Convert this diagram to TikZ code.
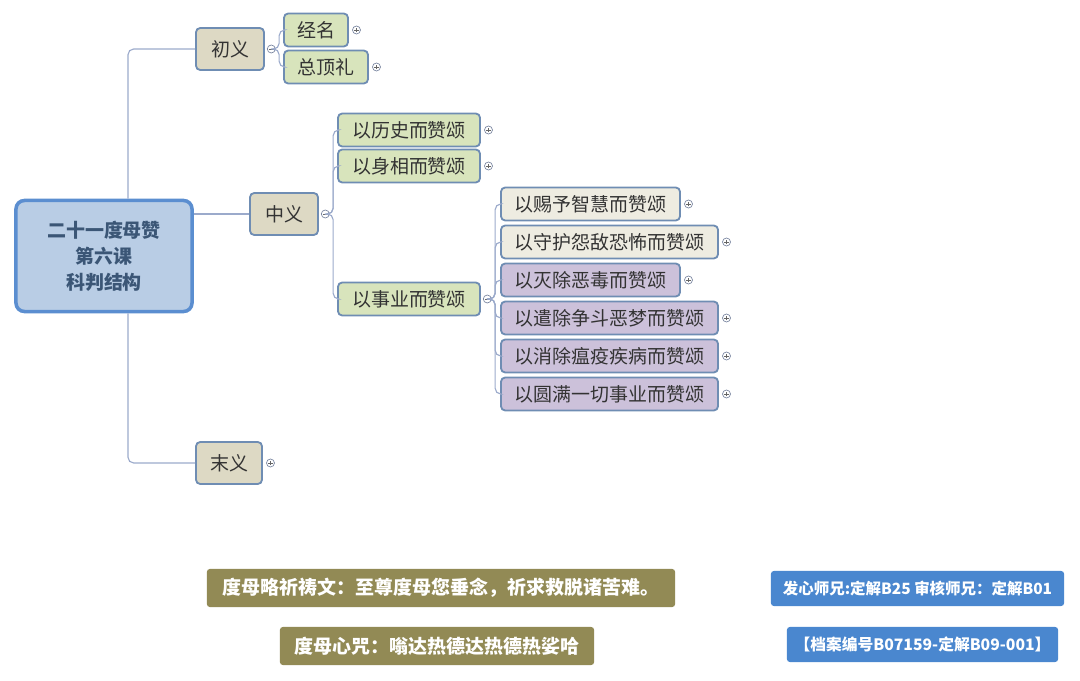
\documentclass[tikz,border=0pt]{standalone}
\usepackage{fontspec}
\setmainfont{Noto Sans CJK SC}
\usetikzlibrary{positioning}
\definecolor{rootfill}{HTML}{B9CDE5}
\definecolor{rootline}{HTML}{5B8ED0}
\definecolor{roottext}{HTML}{3B5676}
\definecolor{boxline}{HTML}{6F8DB3}
\definecolor{tanfill}{HTML}{DDD9C4}
\definecolor{greenfill}{HTML}{D8E4BC}
\definecolor{greyfill}{HTML}{EEECE1}
\definecolor{lilacfill}{HTML}{CCC1DA}
\definecolor{linkcol}{HTML}{9BAACB}
\definecolor{olivebox}{HTML}{928A55}
\definecolor{bluebox}{HTML}{4A87CF}
\begin{document}
\begin{tikzpicture}[x=0.025cm, y=-0.025cm, thick]
\tikzset{topic/.style={draw=boxline, line width=1.3pt, rounded corners=3pt, minimum height=0.825cm, inner sep=0pt, text=black!80, font=\fontsize{13.5}{16}\selectfont}}
\tikzset{main/.style={topic, fill=tanfill, minimum height=1.05cm}}
\tikzset{sub/.style={topic, fill=greenfill}}
\tikzset{act/.style={topic, fill=greyfill}}
\tikzset{tame/.style={topic, fill=lilacfill}}
\tikzset{link/.style={draw=linkcol, line width=0.8pt, rounded corners=4pt}}
\tikzset{fold/.style={circle, draw=linkcol!80!black, fill=white, line width=0.5pt, minimum size=0.2cm, inner sep=0pt, path picture={\draw[line width=0.4pt, black!60] (path picture bounding box.center) ++(-1.7pt,0) -- ++(3.4pt,0);}}}
\tikzset{plus/.style={fold, path picture={\draw[line width=0.4pt, black!60] (path picture bounding box.center) ++(-1.7pt,0) -- ++(3.4pt,0) (path picture bounding box.center) ++(0,-1.7pt) -- ++(0,3.4pt);}}}
\tikzset{note/.style={rounded corners=2pt, inner sep=0pt, text=white, font=\bfseries\fontsize{13.5}{16}\selectfont}}
\useasboundingbox (0,0) rectangle (1080,681);
\node[draw=rootline, fill=rootfill, line width=2.5pt, rounded corners=6pt, minimum width=4.4cm, minimum height=2.775cm, align=center, text=roottext, font=\bfseries\fontsize{13.5}{18.5}\selectfont] (root) at (104,256) {二十一度母赞\\第六课\\科判结构};
\node[main, minimum width=1.7cm] (chu) at (230,49) {初义};
\node[main, minimum width=1.7cm] (zhong) at (284,214) {中义};
\node[main, minimum width=1.65cm] (mo) at (229,463) {末义};
\node[sub, minimum width=1.6cm] (jing) at (316,30) {经名};
\node[sub, minimum width=2.1cm] (zong) at (326,67) {总顶礼};
\node[sub, minimum width=3.55cm] (lishi) at (409,130) {以历史而赞颂};
\node[sub, minimum width=3.55cm] (shenx) at (409,166) {以身相而赞颂};
\node[sub, minimum width=3.55cm] (shiye) at (409,299) {以事业而赞颂};
\node[act, minimum width=4.475cm] (ciyu) at (590.5,204) {以赐予智慧而赞颂};
\node[act, minimum width=5.425cm] (shouhu) at (609.5,242) {以守护怨敌恐怖而赞颂};
\node[tame, minimum width=4.475cm] (miechu) at (590.5,280) {以灭除恶毒而赞颂};
\node[tame, minimum width=5.425cm] (qianchu) at (609.5,318) {以遣除争斗恶梦而赞颂};
\node[tame, minimum width=5.425cm] (xiaochu) at (609.5,356) {以消除瘟疫疾病而赞颂};
\node[tame, minimum width=5.425cm] (yuanman) at (609.5,394) {以圆满一切事业而赞颂};
\coordinate (trunk) at (128,256);
\draw[link] (trunk |- root.north) |- (chu.west);
\draw[link] (root.east |- zhong) -- (zhong.west);
\draw[link] (trunk |- root.south) |- (mo.west);
\node[fold, right=0.05cm of chu] (chuF) {};
\node[fold, right=0.05cm of zhong] (zhongF) {};
\node[fold, right=0.05cm of shiye] (shiyeF) {};
\foreach \kid in {jing, zong}
  \draw[link] (chuF.east) -- ++(3.5,0) |- (\kid.west);
\foreach \kid in {lishi, shenx, shiye}
  \draw[link] (zhongF.east) -- ++(3.5,0) |- (\kid.west);
\foreach \kid in {ciyu, shouhu, miechu, qianchu, xiaochu, yuanman}
  \draw[link] (shiyeF.east) -- ++(3.5,0) |- (\kid.west);
\foreach \kid in {jing, zong, lishi, shenx, ciyu, shouhu, miechu, qianchu, xiaochu, yuanman, mo}
  \node[plus, right=0.08cm of \kid] (\kid P) {};
\node[note, fill=olivebox, minimum width=11.7cm, minimum height=0.95cm] (pray) at (441,588) {度母略祈祷文：至尊度母您垂念，祈求救脱诸苦难。};
\node[note, fill=olivebox, minimum width=7.85cm, minimum height=0.95cm] (mantra) at (437,646) {度母心咒：嗡达热德达热德热娑哈};
\node[note, fill=bluebox, minimum width=7.325cm, minimum height=0.875cm, font=\bfseries\fontsize{11}{13}\selectfont] (credit) at (917.5,588.5) {发心师兄:定解B25 审核师兄：定解B01};
\node[note, fill=bluebox, minimum width=6.775cm, minimum height=0.875cm, font=\bfseries\fontsize{11.2}{13}\selectfont] (record) at (922.5,644.5) {【档案编号B07159-定解B09-001】};
\end{tikzpicture}
\end{document}
